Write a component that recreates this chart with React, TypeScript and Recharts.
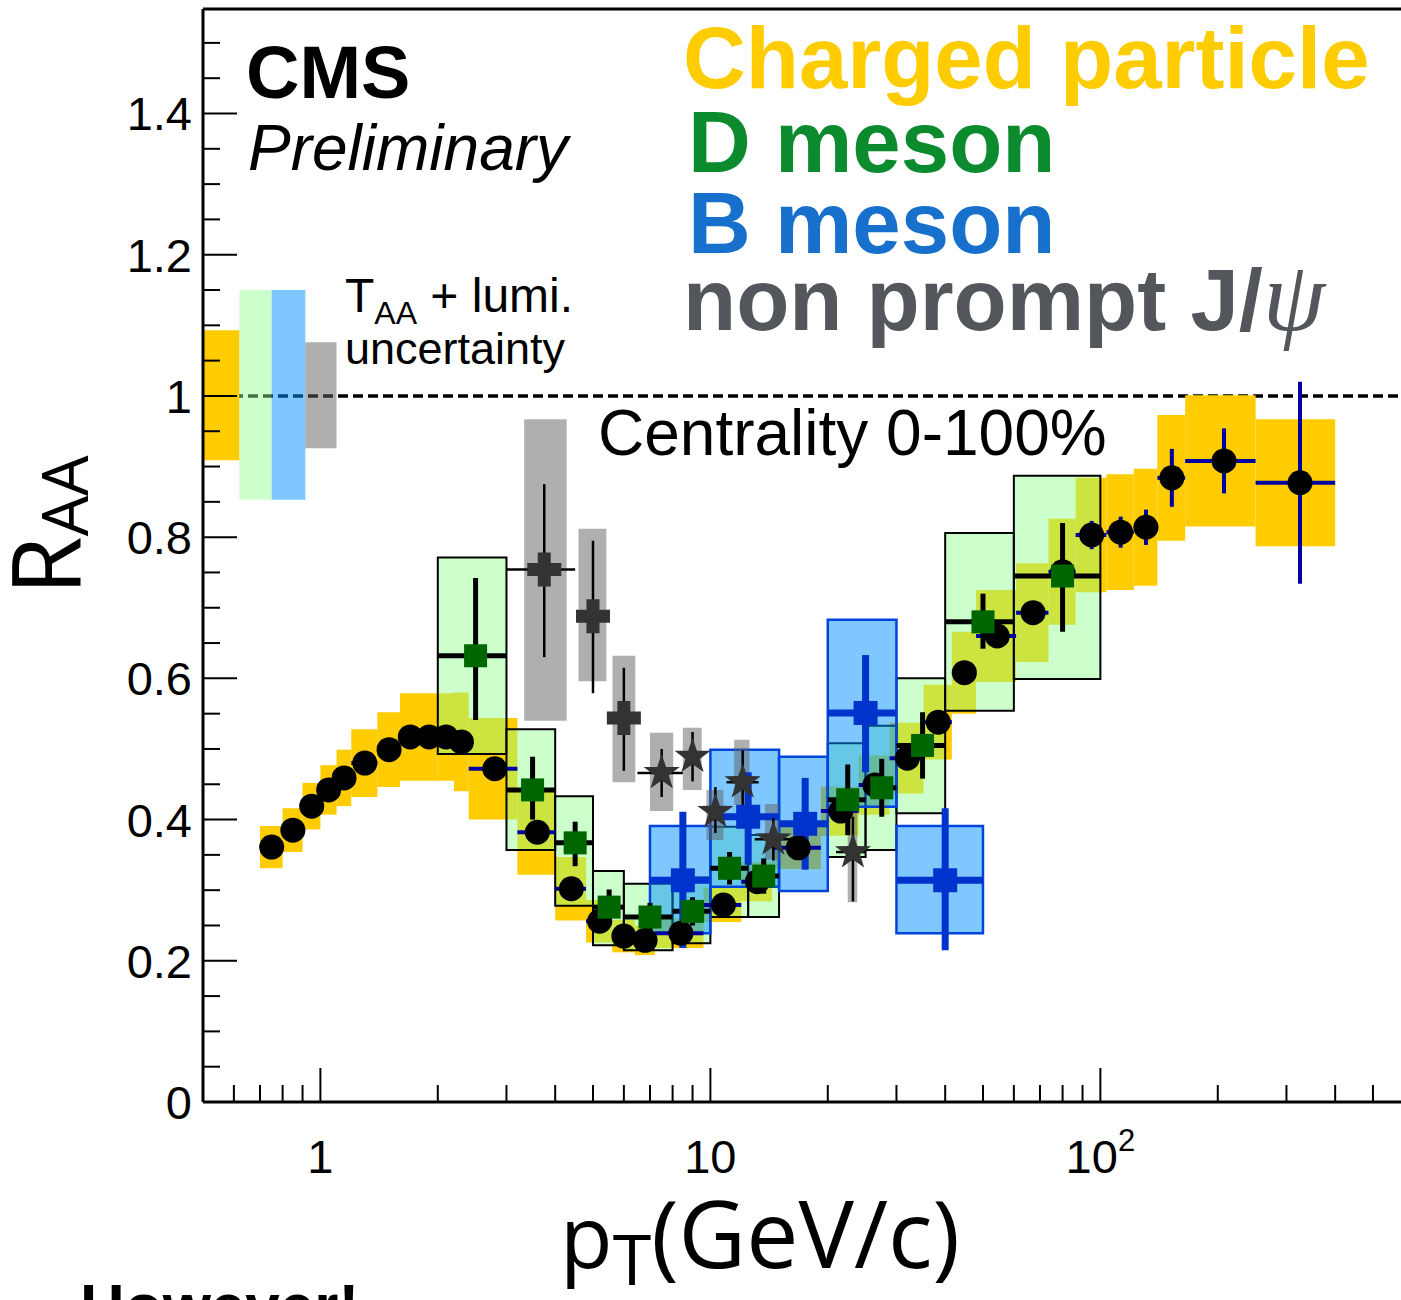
import { ComposedChart, ErrorBar, ReferenceArea, ReferenceLine, Scatter, XAxis, YAxis } from 'recharts';

const FONT = '"Liberation Sans", Arial, Helvetica, sans-serif';
const TITLE_FONT = '"Open Sans", "Noto Sans", sans-serif';

// axis ticks
const xTicks = [0.6, 0.7, 0.8, 0.9, 1, 2, 3, 4, 5, 6, 7, 8, 9, 10, 20, 30, 40, 50, 60, 70, 80, 90, 100, 200, 300, 400, 500];
const xMajor = [1, 10, 100];
const xLabels = ['1', '10', '10'];
const yTicks = [0, 0.05, 0.1, 0.15, 0.2, 0.25, 0.3, 0.35, 0.4, 0.45, 0.5, 0.55, 0.6, 0.65, 0.7, 0.75, 0.8, 0.85, 0.9, 0.95, 1, 1.05, 1.1, 1.15, 1.2, 1.25, 1.3, 1.35, 1.4, 1.45, 1.5];
const yMajor = [0, 0.2, 0.4, 0.6, 0.8, 1, 1.2, 1.4];
const yLabels = ['0', '0.2', '0.4', '0.6', '0.8', '1', '1.2', '1.4'];

// charged particles
const chEdges = [0.7, 0.8, 0.9, 1.0, 1.1, 1.2, 1.4, 1.6, 1.8, 2.0, 2.2, 2.4, 3.2, 4.0, 4.8, 5.6, 6.4, 7.2, 9.6, 12, 14.4, 19.2, 24, 28.8, 35.2, 41.6, 48, 60.8, 73.6, 86.4, 103.6, 121.8, 140, 165, 250, 400];
const chPt = [0.75, 0.85, 0.95, 1.05, 1.15, 1.3, 1.5, 1.7, 1.9, 2.1, 2.3, 2.8, 3.6, 4.4, 5.2, 6.0, 6.8, 8.4, 10.8, 13.2, 16.8, 21.6, 26.4, 32.0, 38.4, 44.8, 54.4, 67.2, 80.0, 95.0, 112.7, 130.9, 152.5, 207.5, 325];
const chR = [0.361, 0.385, 0.419, 0.442, 0.459, 0.48, 0.499, 0.517, 0.517, 0.517, 0.51, 0.472, 0.382, 0.302, 0.256, 0.235, 0.229, 0.239, 0.279, 0.312, 0.36, 0.412, 0.449, 0.487, 0.538, 0.608, 0.66, 0.693, 0.751, 0.803, 0.807, 0.814, 0.884, 0.908, 0.877];
const chStat = [0.004, 0.004, 0.004, 0.004, 0.004, 0.004, 0.004, 0.004, 0.004, 0.004, 0.004, 0.005, 0.005, 0.005, 0.005, 0.005, 0.005, 0.005, 0.005, 0.006, 0.006, 0.007, 0.008, 0.009, 0.01, 0.012, 0.013, 0.015, 0.018, 0.02, 0.022, 0.025, 0.041, 0.046, 0.143];
const chSys = [0.03, 0.031, 0.033, 0.035, 0.04, 0.048, 0.053, 0.062, 0.062, 0.062, 0.07, 0.072, 0.06, 0.045, 0.03, 0.023, 0.021, 0.021, 0.024, 0.028, 0.03, 0.035, 0.042, 0.05, 0.053, 0.058, 0.065, 0.07, 0.075, 0.081, 0.082, 0.083, 0.089, 0.093, 0.09];

// D mesons
const dPt = [2.5, 3.5, 4.5, 5.5, 7, 9, 11.2, 13.7, 22.5, 27.5, 35, 50, 80];
const dLo = [2, 3, 4, 5, 6, 8, 10, 12.5, 20, 25, 30, 40, 60];
const dHi = [3, 4, 5, 6, 8, 10, 12.5, 15, 25, 30, 40, 60, 100];
const dR = [0.632, 0.442, 0.367, 0.276, 0.262, 0.27, 0.331, 0.32, 0.428, 0.445, 0.505, 0.68, 0.745];
const dStatLo = [0.091, 0.042, 0.033, 0.025, 0.02, 0.02, 0.023, 0.025, 0.05, 0.041, 0.047, 0.038, 0.079];
const dStatHi = [0.11, 0.047, 0.03, 0.025, 0.02, 0.02, 0.023, 0.025, 0.05, 0.041, 0.047, 0.04, 0.075];
const dSysLow = [0.493, 0.357, 0.278, 0.222, 0.215, 0.225, 0.262, 0.262, 0.347, 0.357, 0.409, 0.554, 0.599];
const dSysHigh = [0.771, 0.528, 0.433, 0.327, 0.309, 0.318, 0.39, 0.378, 0.508, 0.533, 0.6, 0.806, 0.887];

// B mesons
const bPt = [8.5, 12.5, 17.5, 25, 40];
const bLo = [7, 10, 15, 20, 30];
const bHi = [10, 15, 20, 30, 50];
const bR = [0.314, 0.404, 0.394, 0.551, 0.314];
const bStatLo = [0.096, 0.068, 0.065, 0.084, 0.099];
const bStatHi = [0.097, 0.063, 0.065, 0.082, 0.102];
const bSysLow = [0.239, 0.305, 0.299, 0.418, 0.239];
const bSysHigh = [0.391, 0.499, 0.489, 0.683, 0.391];

// non prompt J/psi
const jPt = [3.75, 5.0, 6.0, 7.5, 9.0, 10.3, 12.1, 14.5, 23.2];
const jR = [0.754, 0.688, 0.544, 0.466, 0.489, 0.411, 0.453, 0.372, 0.354];
const jStatLo = [0.124, 0.109, 0.075, 0.034, 0.035, 0.03, 0.045, 0.03, 0.07];
const jStatHi = [0.121, 0.107, 0.071, 0.034, 0.035, 0.035, 0.045, 0.03, 0.05];
const jXLo = [3.0, 4.55, 5.9, 6.5, 8.8, 10.1, 11.0, 13.0, 21.0];
const jXHi = [4.5, 5.5, 6.1, 8.5, 9.2, 10.5, 13.3, 16.0, 25.0];
const jBoxLo = [3.33, 4.59, 5.61, 7.0, 8.5, 9.77, 11.5, 13.8, 22.5];
const jBoxHi = [4.28, 5.41, 6.42, 8.03, 9.5, 10.8, 12.6, 15.0, 23.8];
const jSysLow = [0.54, 0.596, 0.453, 0.412, 0.442, 0.371, 0.421, 0.343, 0.283];
const jSysHigh = [0.967, 0.812, 0.632, 0.523, 0.53, 0.442, 0.513, 0.422, 0.425];
const jMarker = ['cross', 'cross', 'cross', 'star', 'star', 'star', 'star', 'star', 'star'];

// T_AA + lumi normalisation boxes at R = 1
const normLo = [0.5, 0.62, 0.75, 0.915];
const normHi = [0.62, 0.75, 0.915, 1.1];
const normDown = [0.909, 0.853, 0.853, 0.926];
const normUp = [1.093, 1.15, 1.15, 1.076];

const ORANGE = '#ffcc00';
const GREEN_BOX = 'rgb(142,255,142)';
const BLUE_BOX = 'rgb(0,145,255)';
const GRAY_BOX = 'rgb(96,96,96)';
const normFill = [ORANGE, GREEN_BOX, BLUE_BOX, GRAY_BOX];
const normOpacity = [1, 0.45, 0.5, 0.5];

const Y_TOP = 1.548;

const chargedData = chPt.map((x, i) => ({ x, y: chR[i], ex: [x - chEdges[i], chEdges[i + 1] - x], ey: chStat[i] }));
const dData = dPt.map((x, i) => ({ x, y: dR[i], ex: [x - dLo[i], dHi[i] - x], ey: [dStatLo[i], dStatHi[i]] }));
const bData = bPt.map((x, i) => ({ x, y: bR[i], ex: [x - bLo[i], bHi[i] - x], ey: [bStatLo[i], bStatHi[i]] }));
const jData = jPt.map((x, i) => ({ x, y: jR[i], ex: [x - jXLo[i], jXHi[i] - x], ey: [jStatLo[i], jStatHi[i]], m: jMarker[i] }));

const isMajor = (v: number, list: number[]) => list.findIndex((m) => Math.abs(m - v) < 1e-6);

function XTick(props: any) {
  const { x, y, payload } = props;
  const idx = isMajor(payload.value, xMajor);
  const major = idx >= 0;
  return (
    <g>
      <line x1={x} x2={x} y1={y} y2={y - (major ? 34 : 17)} stroke="#000" strokeWidth={2} />
      {major && (
        <text x={x} y={y + 71} textAnchor="middle" fontFamily={FONT} fontSize={47} fill="#000">
          {xLabels[idx]}
          {payload.value === 100 && (
            <tspan dy={-22} fontSize={31}>2</tspan>
          )}
        </text>
      )}
    </g>
  );
}

function YTick(props: any) {
  const { x, y, payload } = props;
  const idx = isMajor(payload.value, yMajor);
  const major = idx >= 0;
  return (
    <g>
      <line x1={x} x2={x + (major ? 34 : 17)} y1={y} y2={y} stroke="#000" strokeWidth={2} />
      {major && (
        <text x={x - 11} y={y + 17} textAnchor="end" fontFamily={FONT} fontSize={47} fill="#000">
          {yLabels[idx]}
        </text>
      )}
    </g>
  );
}

function starPoints(cx: number, cy: number, R: number, r: number) {
  const pts: string[] = [];
  for (let i = 0; i < 10; i++) {
    const a = (-90 + i * 36) * (Math.PI / 180);
    const rad = i % 2 === 0 ? R : r;
    pts.push(`${cx + rad * Math.cos(a)},${cy + rad * Math.sin(a)}`);
  }
  return pts.join(' ');
}

const ChargedDot = (p: any) => <circle cx={p.cx} cy={p.cy} r={12.5} fill="#000" />;
const DSquare = (p: any) => <rect x={p.cx - 11.5} y={p.cy - 11.5} width={23} height={23} fill="#006600" />;
const BSquare = (p: any) => <rect x={p.cx - 12} y={p.cy - 12} width={24} height={24} fill="#0033cc" />;
const JMarker = (p: any) => {
  const { cx, cy } = p;
  if (p.payload && p.payload.m === 'star') {
    return <polygon points={starPoints(cx, cy, 19, 7.5)} fill="#333333" />;
  }
  const a = 17;
  const t = 6.5;
  return (
    <path
      d={`M${cx - t},${cy - a}H${cx + t}V${cy - t}H${cx + a}V${cy + t}H${cx + t}V${cy + a}H${cx - t}V${cy + t}H${cx - a}V${cy - t}H${cx - t}Z`}
      fill="#333333"
    />
  );
};

export default function App() {
  return (
    <div style={{ position: 'absolute', left: 0, top: 0, width: 1401, height: 1300, overflow: 'hidden' }}>
      <ComposedChart width={1401} height={1300} margin={{ top: 9, right: 0, left: 0, bottom: 118 }}>
        <XAxis
          dataKey="x"
          type="number"
          scale="log"
          domain={[0.5, 590]}
          allowDataOverflow
          ticks={xTicks}
          interval={0}
          tickLine={false}
          tickSize={0}
          tickMargin={0}
          tick={(p: any) => <XTick {...p} />}
          axisLine={{ stroke: '#000', strokeWidth: 3 }}
          height={80}
        />
        <YAxis
          dataKey="y"
          type="number"
          domain={[0, Y_TOP]}
          allowDataOverflow
          ticks={yTicks}
          interval={0}
          tickLine={false}
          tickSize={0}
          tickMargin={0}
          tick={(p: any) => <YTick {...p} />}
          axisLine={{ stroke: '#000', strokeWidth: 3 }}
          width={203}
        />
        <ReferenceLine y={1} stroke="#000" strokeWidth={3.5} strokeDasharray="10 5" zIndex={50} />
        <ReferenceLine y={Y_TOP} stroke="#000" strokeWidth={3} />

        {normLo.map((lo, i) => (
          <ReferenceArea key={`n${i}`} x1={lo} x2={normHi[i]} y1={normDown[i]} y2={normUp[i]} fill={normFill[i]} fillOpacity={normOpacity[i]} stroke="none" />
        ))}
        {chPt.map((_, i) => (
          <ReferenceArea key={`c${i}`} x1={chEdges[i]} x2={chEdges[i + 1]} y1={chR[i] - chSys[i]} y2={chR[i] + chSys[i]} fill={ORANGE} fillOpacity={1} stroke="none" />
        ))}
        {dPt.map((_, i) => (
          <ReferenceArea key={`d${i}`} x1={dLo[i]} x2={dHi[i]} y1={dSysLow[i]} y2={dSysHigh[i]} fill={GREEN_BOX} fillOpacity={0.45} stroke="#000" strokeWidth={2} />
        ))}
        {bPt.map((_, i) => (
          <ReferenceArea key={`b${i}`} x1={bLo[i]} x2={bHi[i]} y1={bSysLow[i]} y2={bSysHigh[i]} fill={BLUE_BOX} fillOpacity={0.5} stroke="#0044dd" strokeWidth={2.5} />
        ))}
        {jPt.map((_, i) => (
          <ReferenceArea key={`j${i}`} x1={jBoxLo[i]} x2={jBoxHi[i]} y1={jSysLow[i]} y2={jSysHigh[i]} fill={GRAY_BOX} fillOpacity={0.5} stroke="none" />
        ))}

        <Scatter data={chargedData} isAnimationActive={false} shape={ChargedDot}>
          <ErrorBar dataKey="ex" direction="x" width={0} stroke="#0000a0" strokeWidth={4} isAnimationActive={false} />
          <ErrorBar dataKey="ey" direction="y" width={0} stroke="#0000a0" strokeWidth={4} isAnimationActive={false} />
        </Scatter>
        <Scatter data={dData} isAnimationActive={false} shape={DSquare}>
          <ErrorBar dataKey="ex" direction="x" width={0} stroke="#000" strokeWidth={5} isAnimationActive={false} />
          <ErrorBar dataKey="ey" direction="y" width={0} stroke="#000" strokeWidth={5} isAnimationActive={false} />
        </Scatter>
        <Scatter data={bData} isAnimationActive={false} shape={BSquare}>
          <ErrorBar dataKey="ex" direction="x" width={0} stroke="#0033cc" strokeWidth={7} isAnimationActive={false} />
          <ErrorBar dataKey="ey" direction="y" width={0} stroke="#0033cc" strokeWidth={7} isAnimationActive={false} />
        </Scatter>
        <Scatter data={jData} isAnimationActive={false} shape={JMarker}>
          <ErrorBar dataKey="ex" direction="x" width={0} stroke="#000" strokeWidth={2.5} isAnimationActive={false} />
          <ErrorBar dataKey="ey" direction="y" width={0} stroke="#000" strokeWidth={2.5} isAnimationActive={false} />
        </Scatter>
      </ComposedChart>

      <svg width={1401} height={1300} style={{ position: 'absolute', left: 0, top: 0, pointerEvents: 'none' }}>
        <text x={246} y={98} fontFamily={FONT} fontWeight="bold" fontSize={74} fill="#000">CMS</text>
        <text x={248} y={170} fontFamily={FONT} fontStyle="italic" fontSize={64} fill="#000">Preliminary</text>

        <text x={683} y={88} fontFamily={FONT} fontWeight="bold" fontSize={87} fill="#ffcc00">Charged particle</text>
        <text x={688} y={172} fontFamily={FONT} fontWeight="bold" fontSize={87} fill="#0b8a2e">D meson</text>
        <text x={688} y={253} fontFamily={FONT} fontWeight="bold" fontSize={87} fill="#1670cc">B meson</text>
        <text x={683} y={330} fontFamily={FONT} fontWeight="bold" fontSize={87} fill="#53575c">
          non prompt J/
          <tspan fontFamily='"Liberation Serif", "DejaVu Serif", serif' fontStyle="italic" fontWeight="normal" fontSize={100}>ψ</tspan>
        </text>

        <text x={345} y={312} fontFamily={FONT} fontSize={48} fill="#000">
          T<tspan fontSize={32} dy={12}>AA</tspan>
          <tspan dy={-12}> + lumi.</tspan>
        </text>
        <text x={345} y={364} fontFamily={FONT} fontSize={45} fill="#000">uncertainty</text>

        <text x={598} y={455} fontFamily={FONT} fontSize={64} fill="#000">Centrality 0-100%</text>

        <text x={80} y={595} transform="rotate(-90, 80, 595)" fontFamily={TITLE_FONT} fontSize={95} fill="#000">
          R<tspan fontSize={64} dy={8}>AA</tspan>
        </text>
        <text x={560} y={1268} fontFamily={TITLE_FONT} fontSize={86} fill="#000">
          p<tspan fontSize={70} dy={17}>T</tspan>
          <tspan dy={-17} fontSize={93}>(GeV/c)</tspan>
        </text>

        <text x={80} y={1327} fontFamily={FONT} fontWeight="bold" fontSize={62} fill="#000">However!</text>
      </svg>
    </div>
  );
}
